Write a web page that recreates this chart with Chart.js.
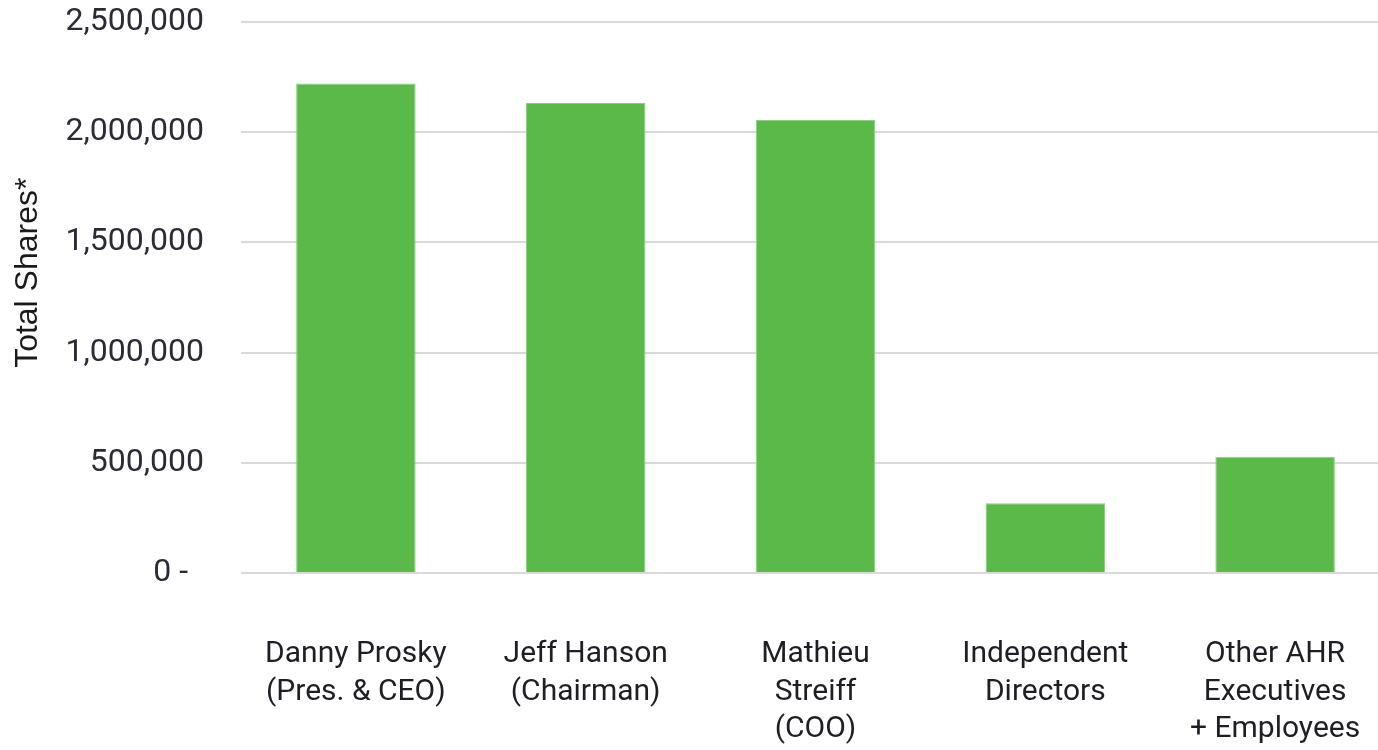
<!DOCTYPE html>
<html>
<head>
<meta charset="utf-8">
<script src="https://cdn.jsdelivr.net/npm/chart.js@4/dist/chart.umd.min.js"></script>
<style>
  html, body { margin: 0; padding: 0; background: #ffffff; overflow: hidden; }
  #wrap { width: 1390px; height: 750px; }
</style>
</head>
<body>
<div id="wrap"><canvas id="c" width="1390" height="750"></canvas></div>
<script>
const categories = [
  ["Danny Prosky", "(Pres. & CEO)"],
  ["Jeff Hanson", "(Chairman)"],
  ["Mathieu", "Streiff", "(COO)"],
  ["Independent", "Directors"],
  ["Other AHR", "Executives", "+ Employees"]
];
const totalShares = [2221000, 2132000, 2055000, 316000, 528000];
const yMax = 2500000;
const yStep = 500000;
const yTitle = "Total Shares*";

const xFont = { family: "Roboto, 'Noto Sans', sans-serif", size: 30, lineHeight: 1.25 };
const yFont = { family: "Roboto, 'Noto Sans', sans-serif", size: 32, lineHeight: 1.2 };

const yTitlePlugin = {
  id: 'yTitlePlugin',
  afterDraw(chart) {
    const ctx = chart.ctx;
    const mid = chart.chartArea.top + (chart.chartArea.bottom - chart.chartArea.top) * 0.455;
    ctx.save();
    ctx.translate(37, mid);
    ctx.rotate(-Math.PI / 2);
    ctx.font = "32px 'Liberation Sans', Arial, sans-serif";
    ctx.fillStyle = '#1a1a1a';
    ctx.textAlign = 'center';
    ctx.textBaseline = 'alphabetic';
    ctx.fillText(yTitle, 0, 0);
    ctx.restore();
  }
};

new Chart(document.getElementById('c'), {
  type: 'bar',
  data: {
    labels: categories,
    datasets: [{
      data: totalShares,
      backgroundColor: '#5BB94A',
      borderColor: '#8CCF80',
      borderWidth: 1,
      categoryPercentage: 1.0,
      barPercentage: 0.52
    }]
  },
  plugins: [yTitlePlugin],
  options: {
    responsive: false,
    animation: false,
    devicePixelRatio: 1,
    layout: { padding: { top: 22, right: 0, left: 0, bottom: 0 } },
    plugins: { legend: { display: false }, tooltip: { enabled: false } },
    scales: {
      x: {
        grid: { display: false, drawTicks: false },
        border: { display: false },
        ticks: {
          color: '#1e1e24',
          font: xFont,
          padding: 63,
          maxRotation: 0,
          autoSkip: false
        },
        afterFit: (s) => { s.height = 177; s.paddingLeft = 0; s.paddingRight = 0; }
      },
      y: {
        min: 0,
        max: yMax,
        grid: { color: '#d9d9d9', lineWidth: 2, drawTicks: false },
        border: { display: false },
        ticks: {
          stepSize: yStep,
          color: '#2b2b35',
          font: yFont,
          padding: 37,
          callback: (v) => v === 0 ? '0 -  ' : v.toLocaleString('en-US')
        },
        title: { display: false },
        afterFit: (s) => { s.width = 241; s.paddingTop = 0; s.paddingBottom = 0; }
      }
    }
  }
});
</script>
</body>
</html>
